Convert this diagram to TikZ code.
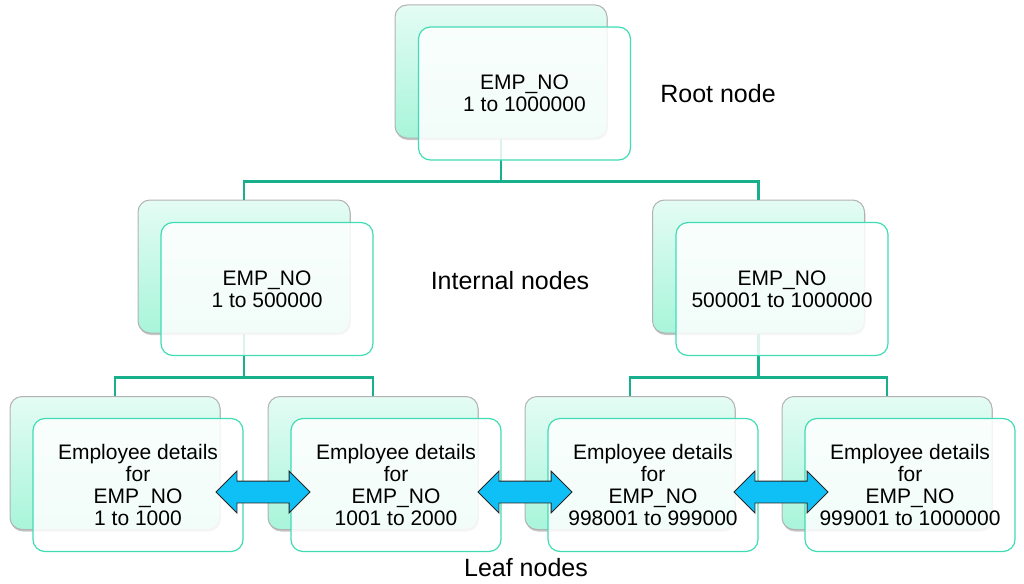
\documentclass[tikz,border=0pt]{standalone}
\usepackage{fontspec}
\setmainfont{Liberation Sans}
\usetikzlibrary{shapes.arrows,shadows}
\definecolor{linkgreen}{RGB}{24,176,140}
\definecolor{framegreen}{RGB}{64,220,180}
\definecolor{backgray}{RGB}{178,178,178}
\definecolor{mintlight}{RGB}{228,252,244}
\definecolor{mintdark}{RGB}{168,245,218}
\definecolor{arrowblue}{RGB}{14,192,245}
\begin{document}
\begin{tikzpicture}[x=1pt, y=-1pt,
  backbox/.style={draw=backgray, line width=1pt, rounded corners=12pt,
    top color=mintlight, bottom color=mintdark,
    minimum width=212pt, minimum height=133pt,
    drop shadow={shadow xshift=.8pt, shadow yshift=-2pt, fill=black!50, opacity=.45}},
  frontbox/.style={draw=framegreen, line width=1.2pt, rounded corners=12pt,
    fill=white, fill opacity=.85, text opacity=1,
    minimum width=212pt, minimum height=133pt, align=center,
    font=\fontsize{21}{22}\selectfont},
  link/.style={draw=linkgreen, line width=2.6pt},
  swap/.style={double arrow, draw=black!85, line width=.8pt, fill=arrowblue,
    minimum height=94pt, minimum width=41pt, double arrow head extend=10pt,
    double arrow tip angle=90, inner xsep=0pt, inner ysep=10.5pt},
  tag/.style={font=\fontsize{25}{30}\selectfont}]
  \useasboundingbox (0,0) rectangle (1024,583);

  % back boxes
  \node[backbox] (rootB) at (501,71.5) {};
  \node[backbox] (intlB) at (244,266.5) {};
  \node[backbox] (intrB) at (758.5,266.5) {};
  \node[backbox, minimum width=210pt] (leafaB) at (115,463) {};
  \node[backbox, minimum width=210pt] (leafbB) at (373,463) {};
  \node[backbox, minimum width=210pt] (leafcB) at (630,463) {};
  \node[backbox, minimum width=210pt] (leafdB) at (887,463) {};

  % tree links
  \draw[link] (rootB.south) -- ++(0,43) -| (intlB.north);
  \draw[link] (rootB.south) -- ++(0,43) -| (intrB.north);
  \draw[link] (intlB.south) -- ++(0,44) -| (leafaB.north);
  \draw[link] (intlB.south) -- ++(0,44) -| (leafbB.north);
  \draw[link] (intrB.south) -- ++(0,44) -| (leafcB.north);
  \draw[link] (intrB.south) -- ++(0,44) -| (leafdB.north);

  % front boxes
  \node[frontbox] (rootF) at (524.5,93.5) {EMP\_NO\\1 to 1000000};
  \node[frontbox] (intlF) at (267,289) {EMP\_NO\\1 to 500000};
  \node[frontbox] (intrF) at (782,289) {EMP\_NO\\500001 to 1000000};
  \node[frontbox, minimum width=210pt] (leafaF) at (138,485) {Employee details\\for\\EMP\_NO\\1 to 1000};
  \node[frontbox, minimum width=210pt] (leafbF) at (396,485) {Employee details\\for\\EMP\_NO\\1001 to 2000};
  \node[frontbox, minimum width=210pt] (leafcF) at (653,485) {Employee details\\for\\EMP\_NO\\998001 to 999000};
  \node[frontbox, minimum width=210pt] (leafdF) at (910,485) {Employee details\\for\\EMP\_NO\\999001 to 1000000};

  % sibling arrows
  \node[swap] (swapab) at (263,492) {};
  \node[swap] (swapbc) at (525,492) {};
  \node[swap] (swapcd) at (781,492) {};

  \node[tag] (roottag) at (718,94) {Root node};
  \node[tag] (inttag) at (510,281) {Internal nodes};
  \node[tag] (leaftag) at (526,568) {Leaf nodes};
\end{tikzpicture}
\end{document}
